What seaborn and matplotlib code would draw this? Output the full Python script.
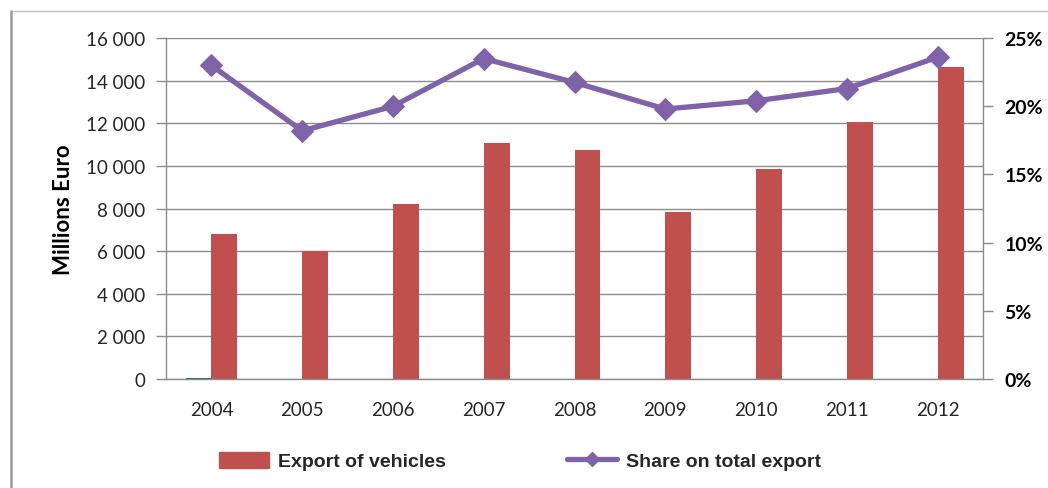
import matplotlib
matplotlib.use("Agg")
import matplotlib.pyplot as plt
import matplotlib.lines as mlines
import matplotlib.patches as mpatches
from matplotlib.ticker import FuncFormatter, MultipleLocator, FixedLocator
import seaborn as sns
import pandas as pd

# Data
years = ["2004", "2005", "2006", "2007", "2008", "2009", "2010", "2011", "2012"]
export_vehicles = [6800, 6000, 8200, 11100, 10750, 7850, 9850, 12050, 14650]  # millions EUR
minor_series = [40, 0, 0, 0, 0, 0, 0, 0, 0]  # near-zero companion series
share_total = [23.0, 18.2, 20.0, 23.5, 21.75, 19.8, 20.4, 21.3, 23.6]  # percent

BAR_RED = "#C0504D"
LINE_PURPLE = "#7F62A8"
MINOR_TEAL = "#2E6A78"
GRID = "#8C8C8C"

sns.set_theme(style="white")
plt.rcParams["font.family"] = ["Lato", "DejaVu Sans"]

bars = pd.DataFrame({
    "year": years * 2,
    "value": minor_series + export_vehicles,
    "series": ["Other"] * len(years) + ["Export of vehicles"] * len(years),
})
shares = pd.DataFrame({"year": years, "share": share_total})

fig = plt.figure(figsize=(10.48, 4.89), dpi=100)
ax = fig.add_axes([0.1584, 0.223, 0.938 - 0.1584, 0.920 - 0.223])

sns.barplot(data=bars, x="year", y="value", hue="series",
            palette={"Other": MINOR_TEAL, "Export of vehicles": BAR_RED},
            width=0.57, dodge=True, saturation=1, legend=False, linewidth=0, ax=ax)

ax.set_ylim(0, 16000)
ax.set_xlim(-0.5, len(years) - 0.5)
ax.yaxis.set_major_locator(MultipleLocator(2000))
ax.yaxis.set_major_formatter(FuncFormatter(lambda v, p: f"{int(v):,}".replace(",", " ")))
ax.grid(axis="y", color=GRID, linewidth=1.0)
ax.set_axisbelow(True)

# category boundaries carry the tick marks; labels sit at category centres
ax.xaxis.set_minor_locator(FixedLocator([i - 0.5 for i in range(len(years) + 1)]))
ax.tick_params(axis="x", which="major", length=0, labelsize=13.5, pad=16, colors="#262626")
ax.tick_params(axis="x", which="minor", length=7, width=1, color=GRID, direction="out")
ax.tick_params(axis="y", which="major", length=7, width=1, color=GRID, direction="out",
               labelsize=13.5, pad=8, colors="#262626")
ax.set_xlabel("")
ax.set_ylabel("Millions Euro", fontsize=16, fontweight="bold", color="black")
ax.yaxis.set_label_coords(-0.112, 0.5)

for side in ("top", "right"):
    ax.spines[side].set_visible(False)
for side in ("left", "bottom"):
    ax.spines[side].set_color(GRID)
    ax.spines[side].set_linewidth(1.0)

# Share of total export on the secondary axis
ax2 = ax.twinx()
sns.lineplot(data=shares, x="year", y="share", color=LINE_PURPLE, linewidth=3.8,
             marker="D", markersize=11, markeredgecolor=LINE_PURPLE, sort=False,
             ax=ax2, legend=False)
ax2.set_ylim(0, 25)
ax2.set_xlim(-0.5, len(years) - 0.5)
ax2.yaxis.set_major_locator(MultipleLocator(5))
ax2.yaxis.set_major_formatter(FuncFormatter(lambda v, p: f"{int(v)}%"))
ax2.tick_params(axis="y", length=7, width=1, color=GRID, direction="out",
                labelsize=14, pad=8.5, colors="black")
for lbl in ax2.get_yticklabels():
    lbl.set_fontweight("bold")
ax2.set_ylabel("")
ax2.grid(False)
for side in ("top", "left", "bottom"):
    ax2.spines[side].set_visible(False)
ax2.spines["right"].set_color(GRID)
ax2.spines["right"].set_linewidth(1.0)

# Legend
handles = [
    mpatches.Patch(color=BAR_RED, label="Export of vehicles"),
    mlines.Line2D([], [], color=LINE_PURPLE, linewidth=3.8, marker="D", markersize=7,
                  label="Share on total export"),
]
fig.legend(handles=handles, loc="center", bbox_to_anchor=(0.496, 0.055), ncol=2,
           frameon=False, handlelength=2.6, handleheight=0.9, handletextpad=0.45,
           columnspacing=6.2,
           prop={"family": ["Liberation Sans", "DejaVu Sans"], "weight": "bold", "size": 14})

# Chart area border (top and left edges)
fig.add_artist(mlines.Line2D([11 / 1048, 1.0], [1 - 12 / 489, 1 - 12 / 489],
                             transform=fig.transFigure, color="#BDBDBD", linewidth=1.0))
fig.add_artist(mlines.Line2D([11 / 1048, 11 / 1048], [0.0, 1 - 12 / 489],
                             transform=fig.transFigure, color="#9A9A9A", linewidth=1.8))

fig.savefig("out.png", dpi=100)
